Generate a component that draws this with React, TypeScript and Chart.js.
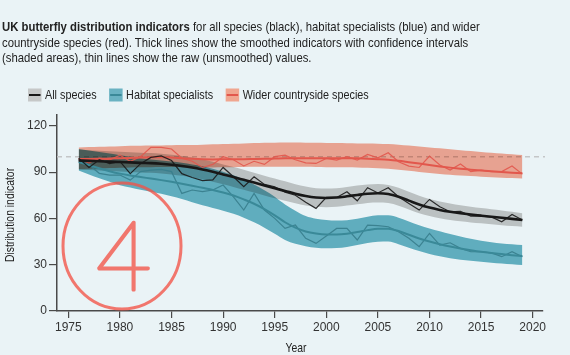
import React, { useEffect, useRef } from 'react';
import { Chart, registerables } from 'chart.js';

// ---------- data ----------
const years = [
  1976, 1977, 1978, 1979, 1980, 1981, 1982, 1983, 1984, 1985,
  1986, 1987, 1988, 1989, 1990, 1991, 1992, 1993, 1994, 1995,
  1996, 1997, 1998, 1999, 2000, 2001, 2002, 2003, 2004, 2005,
  2006, 2007, 2008, 2009, 2010, 2011, 2012, 2013, 2014, 2015,
  2016, 2017, 2018, 2019,
];

const allRaw = [
  99, 93, 98, 95.5, 97, 89, 95.5, 99.5, 100.5, 97.5,
  89, 86.5, 84.5, 85, 93, 87, 80.5, 87, 82, 80.5,
  77, 75, 70.5, 66.5, 73.6, 73.6, 77.3, 71.4, 79.9, 76.5,
  79.9, 74, 69.7, 65.4, 72.3, 67.6, 64.3, 64.6, 61.5, 61.5,
  61, 57.8, 62.6, 58.9,
];
const allSmooth = [
  97.5, 97.3, 97, 96.8, 96.5, 96.3, 96, 95.8, 95.4, 94.8,
  94, 93, 91.7, 90.2, 88.5, 86.8, 85, 83.2, 81.3, 79.5,
  77.8, 76, 74.5, 73.5, 73.2, 73.5, 74.3, 75.2, 76, 76.3,
  75.8, 74, 71.5, 69, 67, 65.5, 64.3, 63.3, 62.5, 61.8,
  61.1, 60.4, 59.7, 59,
];
const allUpper = [
  104.5, 104.2, 103.8, 103.5, 103.2, 102.9, 102.6, 102.3, 101.9, 101.3,
  100.5, 99.5, 98.2, 96.7, 95, 93.3, 91.5, 89.6, 87.7, 85.8,
  84, 82.2, 80.6, 79.6, 79.3, 79.6, 80.4, 81.3, 82, 82.3,
  81.7, 79.8, 77.2, 74.6, 72.5, 70.9, 69.6, 68.5, 67.6, 66.8,
  66, 65.2, 64.3, 63.4,
];
const allLower = [
  91.5, 91.3, 91, 90.7, 90.4, 90.1, 89.8, 89.5, 89.1, 88.5,
  87.6, 86.6, 85.3, 83.8, 82.1, 80.4, 78.6, 76.8, 74.9, 73.1,
  71.5, 69.8, 68.4, 67.5, 67.2, 67.5, 68.3, 69.1, 70, 70.3,
  69.9, 68.2, 65.8, 63.4, 61.5, 60.1, 59, 58.1, 57.4, 56.8,
  56.2, 55.6, 55, 54.6,
];

const habRaw = [
  98, 94.6, 89.2, 88.1, 88.1, 84.8, 90.3, 91.3, 91.8, 90.3,
  76.2, 78.4, 77.3, 78.4, 81.6, 74, 65.4, 76.2, 65.4, 60,
  53.5, 55.7, 47.1, 43.8, 48.6, 53.5, 53.5, 46, 55.7, 55.3,
  54.6, 51.4, 47.1, 41.7, 50.3, 42.7, 44.2, 40.6, 38.4, 38.4,
  37.7, 35.2, 38.4, 35.2,
];
const habSmooth = [
  96.5, 94.5, 92.5, 90.6, 89, 87.8, 86.8, 85.8, 84.8, 83.7,
  82.5, 81.2, 79.8, 78.4, 76.8, 74.8, 72.3, 69.5, 66, 62,
  57.5, 54, 51.5, 50.2, 49.6, 49.6, 50.1, 51.2, 52.4, 53.3,
  53.3, 51.8, 49.4, 47, 45, 43.3, 41.8, 40.5, 39.4, 38.4,
  37.6, 36.9, 36.2, 35.6,
];
const habUpper = [
  105, 104, 103, 102, 101, 100, 99, 98.2, 97.5, 96.8,
  96, 95, 93.8, 92.2, 90.3, 88, 85.2, 82, 78.2, 74,
  69, 65, 61.5, 59.8, 59, 58.6, 58.8, 59.8, 61, 62,
  62, 60.5, 58, 55.6, 53.5, 51.7, 49.9, 48.2, 46.8, 45.6,
  44.6, 43.8, 43.2, 42.7,
];
const habLower = [
  91, 88.5, 86, 83.7, 81.5, 80, 78.5, 77.2, 76, 74.3,
  72.5, 70.5, 68.5, 66.8, 65, 63, 60.5, 57.5, 54, 50,
  46, 43.5, 42, 41, 40.6, 40.8, 41.5, 42.7, 44, 44.8,
  45, 43.3, 41, 38.8, 37, 35.5, 34.2, 33.2, 32.5, 31.9,
  31.3, 30.8, 30.3, 29.8,
];

const widRaw = [
  98, 96, 99, 98, 101, 97, 100, 106, 106, 105,
  99, 97, 93, 95, 100, 98, 94, 97, 95, 100,
  101, 98, 96, 95.6, 98.9, 97.8, 100, 97.8, 101.4, 99.3,
  102.5, 96.7, 93.9, 93, 100.4, 94.6, 91.3, 95.2, 90.3, 91.3,
  90.3, 90.3, 93.9, 88.7,
];
const widSmooth = [
  98.5, 98.5, 98.6, 98.8, 99, 99.2, 99.4, 99.6, 99.6, 99.4,
  99, 98.6, 98.3, 98.2, 98.3, 98.4, 98.4, 98.5, 98.6, 98.8,
  99, 99, 99, 99, 99, 99, 99, 98.9, 98.7, 98.4,
  98, 97.3, 96.4, 95.5, 94.6, 93.7, 92.9, 92.2, 91.6, 91,
  90.5, 90, 89.6, 89.2,
];
const widUpper = [
  106, 106.2, 106.4, 106.6, 106.8, 107, 107.1, 107.2, 107.3, 107.4,
  107.5, 107.6, 107.8, 108, 108.2, 108.4, 108.6, 108.8, 109, 109.1,
  109.2, 109.2, 109.1, 109, 108.9, 108.8, 108.7, 108.6, 108.5, 108.4,
  108.2, 107.8, 107.2, 106.6, 106, 105.4, 104.8, 104.2, 103.6, 103.1,
  102.6, 102.1, 101.6, 101.1,
];
const widLower = [
  92, 92.2, 92.4, 92.6, 92.8, 93, 93.1, 93.2, 93.3, 93.3,
  93.2, 93.1, 93, 93, 93.1, 93.2, 93.3, 93.4, 93.5, 93.5,
  93.5, 93.5, 93.4, 93.3, 93.2, 93.2, 93.1, 93, 92.8, 92.5,
  92.1, 91.5, 90.8, 90.1, 89.4, 88.8, 88.3, 87.8, 87.4, 87,
  86.7, 86.4, 86.1, 85.8,
];

const legendLabels = ['All species', 'Habitat specialists', 'Wider countryside species'];
const xAxisTitle = 'Year';
const yAxisTitle = 'Distribution indicator';
const referenceLevel = 100;
const yTicks = [0, 30, 60, 90, 120];
const xTicks = [1975, 1980, 1985, 1990, 1995, 2000, 2005, 2010, 2015, 2020];

// ---------- styles ----------
const BG = '#eaf3f6';
const AXIS = '#4a4a4a';
const SANS = "'Liberation Sans', Arial, sans-serif";
const CONDENSE = 0.8;

const C_BLACK = '#181818';
const C_BLUE = '#3a8998';
const C_RED = '#e2574c';
// band colours used with multiply blending
const B_GRAY = 'rgb(204,203,201)';
const B_BLUE = 'rgb(104,182,197)';
const B_RED = 'rgb(252,170,150)';
// legend swatches (as seen on the background)
const S_GRAY = '#c6c8c8';
const S_BLUE = '#6ab2c2';
const S_RED = '#f0a690';

const blendPlugin = {
  id: 'bandBlend',
  beforeDraw(chart: any) {
    const { ctx, width, height } = chart;
    ctx.save();
    ctx.fillStyle = BG;
    ctx.fillRect(0, 0, width, height);
    ctx.restore();
  },
  beforeDatasetsDraw(chart: any) {
    const { ctx, chartArea, scales } = chart;
    const y = scales.y.getPixelForValue(referenceLevel);
    ctx.save();
    ctx.strokeStyle = '#c4c6c7';
    ctx.lineWidth = 1.5;
    ctx.setLineDash([5, 4]);
    ctx.beginPath();
    ctx.moveTo(chartArea.left, y);
    ctx.lineTo(chartArea.right + 2, y);
    ctx.stroke();
    ctx.restore();
    ctx.globalCompositeOperation = 'multiply';
  },
  beforeDatasetDraw(chart: any) {
    chart.ctx.globalCompositeOperation = 'source-over';
  },
  afterDatasetsDraw(chart: any) {
    chart.ctx.globalCompositeOperation = 'source-over';
  },
};

function condensedText(ctx: CanvasRenderingContext2D, text: string, x: number, y: number, align: 'left' | 'center', rot = 0) {
  ctx.save();
  ctx.translate(x, y);
  if (rot) ctx.rotate(rot);
  ctx.scale(CONDENSE, 1);
  ctx.textAlign = align;
  ctx.fillText(text, 0, 0);
  ctx.restore();
}

const textPlugin = {
  id: 'labelsAndLegend',
  afterDraw(chart: any) {
    const { ctx, chartArea } = chart;
    const swatches = [S_GRAY, S_BLUE, S_RED];
    const lines = [C_BLACK, C_BLUE, C_RED];
    ctx.save();
    ctx.font = `13.5px ${SANS}`;
    ctx.textBaseline = 'middle';
    let x = 28;
    const cy = 95;
    legendLabels.forEach((label, i) => {
      ctx.fillStyle = swatches[i];
      ctx.fillRect(x, cy - 6.5, 13.5, 13);
      ctx.strokeStyle = lines[i];
      ctx.lineWidth = 2;
      ctx.beginPath();
      ctx.moveTo(x + 1, cy);
      ctx.lineTo(x + 12.5, cy);
      ctx.stroke();
      ctx.fillStyle = '#222';
      condensedText(ctx, label, x + 17, cy + 0.5, 'left');
      x += 17 + ctx.measureText(label).width * CONDENSE + 12.5;
    });
    // axis titles
    ctx.font = `13px ${SANS}`;
    ctx.fillStyle = '#222';
    condensedText(ctx, xAxisTitle, (chartArea.left + chartArea.right) / 2 - 4, 348, 'center');
    condensedText(ctx, yAxisTitle, 10, (chartArea.top + chartArea.bottom) / 2 + 2, 'center', -Math.PI / 2);
    ctx.restore();
  },
};

const notePlugin = {
  id: 'handNote',
  afterDraw(chart: any) {
    const { ctx } = chart;
    ctx.save();
    ctx.strokeStyle = 'rgba(242,82,70,0.78)';
    ctx.lineWidth = 3;
    ctx.beginPath();
    ctx.ellipse(122, 246, 59, 63, 0, 0, Math.PI * 2);
    ctx.stroke();
    ctx.font = "200 96px Lato, 'DejaVu Sans', sans-serif";
    ctx.textBaseline = 'alphabetic';
    ctx.lineWidth = 3;
    ctx.lineJoin = 'round';
    ctx.strokeText('4', 96, 290);
    ctx.restore();
  },
};

Chart.register(blendPlugin);
Chart.register(...registerables);

const pts = (vals: number[]) => years.map((yr, i) => ({ x: yr, y: vals[i] }));

export default function App() {
  const canvasRef = useRef<HTMLCanvasElement | null>(null);
  const titleRef = useRef<HTMLDivElement | null>(null);

  useEffect(() => {
    document.body.style.margin = '0';
    document.body.style.background = BG;
    const t = titleRef.current;
    if (t) {
      const w = t.offsetWidth;
      if (w > 0) t.style.transform = `scaleX(${478 / w})`;
    }
    const canvas = canvasRef.current;
    if (!canvas) return;

    const smooth = (data: number[], color: string, width: number) => ({
      data: pts(data), borderColor: color, borderWidth: width, pointRadius: 0,
      cubicInterpolationMode: 'monotone', fill: false,
    });
    const raw = (data: number[], color: string) => ({
      data: pts(data), borderColor: color, borderWidth: 1.2, pointRadius: 0, tension: 0, fill: false,
    });
    const upper = (data: number[]) => ({
      data: pts(data), borderWidth: 0, borderColor: 'rgba(0,0,0,0)', pointRadius: 0,
      cubicInterpolationMode: 'monotone', fill: false,
    });
    const lower = (data: number[], color: string) => ({
      data: pts(data), borderWidth: 0, borderColor: 'rgba(0,0,0,0)', pointRadius: 0,
      cubicInterpolationMode: 'monotone', fill: '-1', backgroundColor: color,
    });

    const chart = new Chart(canvas, {
      type: 'line',
      data: {
        datasets: [
          smooth(allSmooth, C_BLACK, 2.6),
          raw(allRaw, 'rgba(25,25,25,0.9)'),
          smooth(habSmooth, C_BLUE, 2),
          raw(habRaw, 'rgba(55,125,140,0.9)'),
          smooth(widSmooth, C_RED, 2),
          raw(widRaw, 'rgba(226,87,76,0.9)'),
          upper(allUpper), lower(allLower, B_GRAY),
          upper(habUpper), lower(habLower, B_BLUE),
          upper(widUpper), lower(widLower, B_RED),
        ] as any,
      },
      options: {
        animation: false,
        responsive: false,
        maintainAspectRatio: false,
        layout: { padding: { top: 115, right: 27, bottom: 0, left: 0 } },
        plugins: {
          legend: { display: false },
          tooltip: { enabled: false },
          filler: { drawTime: 'beforeDatasetsDraw' },
        } as any,
        scales: {
          x: {
            type: 'linear',
            min: 1973.9,
            max: 2021,
            afterBuildTicks: (s: any) => { s.ticks = xTicks.map((v) => ({ value: v })); },
            ticks: {
              callback: (v: any) => String(v),
              font: { family: SANS, size: 12 },
              color: '#333',
              padding: 2,
              maxRotation: 0,
              autoSkip: false,
            },
            grid: { drawOnChartArea: false, drawTicks: true, tickLength: 7, color: AXIS, lineWidth: 1.2 },
            border: { color: AXIS, width: 1.5 },
            title: { display: false, text: xAxisTitle },
            afterFit: (s: any) => { s.height = 44; },
          },
          y: {
            min: 0,
            max: 127,
            afterBuildTicks: (s: any) => { s.ticks = yTicks.map((v) => ({ value: v })); },
            ticks: {
              font: { family: SANS, size: 12 },
              color: '#333',
              padding: 2,
              autoSkip: false,
            },
            grid: { drawOnChartArea: false, drawTicks: true, tickLength: 8, color: AXIS, lineWidth: 1.2 },
            border: { color: AXIS, width: 1.5 },
            title: { display: false, text: yAxisTitle },
            afterFit: (s: any) => { s.width = 57; },
          },
        } as any,
      },
      plugins: [textPlugin, notePlugin],
    });

    return () => chart.destroy();
  }, []);

  return (
    <div style={{ position: 'relative', width: 570, height: 355, background: BG, overflow: 'hidden' }}>
      <canvas ref={canvasRef} width={570} height={355} style={{ position: 'absolute', left: 0, top: 0, display: 'block' }} />
      <div
        ref={titleRef}
        style={{
          position: 'absolute', left: 2, top: 19, display: 'inline-block', whiteSpace: 'nowrap',
          transformOrigin: '0 0',
          fontFamily: SANS, fontSize: 13.5, lineHeight: '15.6px', color: '#222',
        }}
      >
        <b>UK butterfly distribution indicators</b> for all species (black), habitat specialists (blue) and wider
        <br />
        countryside species (red). Thick lines show the smoothed indicators with confidence intervals
        <br />
        (shaded areas), thin lines show the raw (unsmoothed) values.
      </div>
    </div>
  );
}
